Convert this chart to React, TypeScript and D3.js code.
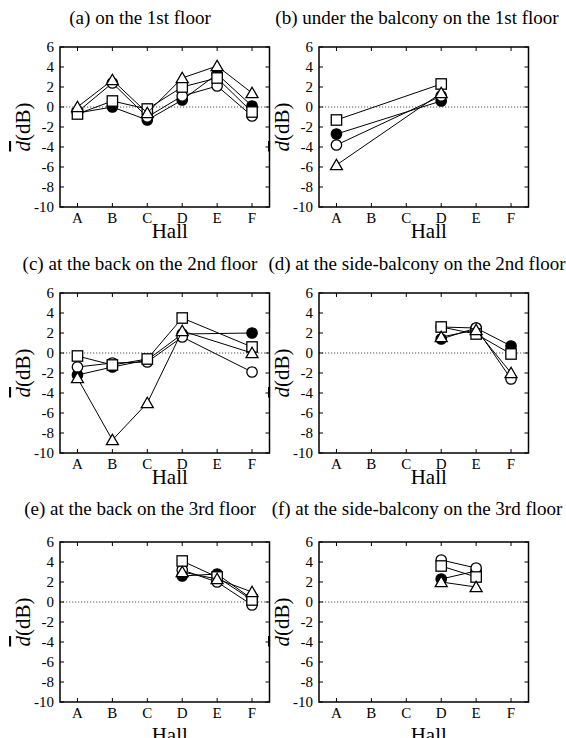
import React from 'react';
import * as d3 from 'd3';

const halls = ['A', 'B', 'C', 'D', 'E', 'F'];
const yTicks = [6, 4, 2, 0, -2, -4, -6, -8, -10];
const titles = [
  '(a) on the 1st floor',
  '(b) under the balcony on the 1st floor',
  '(c) at the back on the 2nd floor',
  '(d) at the side-balcony on the 2nd floor',
  '(e) at the back on the 3rd floor',
  '(f) at the side-balcony on the 3rd floor',
];

type V = number | null;
// one row per panel (a)..(f), one value per hall A..F
const filledCircle: V[][] = [
  [-0.6, 0.0, -1.3, 0.7, 3.3, 0.1],
  [-2.7, null, null, 0.6, null, null],
  [-2.2, -1.4, -0.7, 1.9, null, 2.0],
  [null, null, null, 1.4, 2.5, 0.7],
  [null, null, null, 2.6, 2.8, 0.3],
  [null, null, null, 2.3, 3.1, null],
];
const openCircle: V[][] = [
  [-0.5, 2.4, -1.0, 1.1, 2.1, -0.9],
  [-3.8, null, null, 1.1, null, null],
  [-1.4, -1.0, -0.9, 1.6, null, -1.9],
  [null, null, null, 2.6, 2.5, -2.6],
  [null, null, null, 3.2, 2.0, -0.3],
  [null, null, null, 4.2, 3.4, null],
];
const openSquare: V[][] = [
  [-0.7, 0.6, -0.2, 2.0, 2.9, -0.5],
  [-1.3, null, null, 2.3, null, null],
  [-0.3, -1.2, -0.6, 3.5, null, 0.6],
  [null, null, null, 2.6, 1.9, -0.1],
  [null, null, null, 4.1, 2.5, 0.2],
  [null, null, null, 3.6, 2.5, null],
];
const openTriangle: V[][] = [
  [0.0, 2.7, -0.6, 2.9, 4.1, 1.4],
  [-5.8, null, null, 1.4, null, null],
  [-2.5, -8.7, -5.0, 2.2, null, 0.0],
  [null, null, null, 1.6, 2.3, -2.0],
  [null, null, null, 3.0, 2.3, 1.0],
  [null, null, null, 2.0, 1.5, null],
];

const W = 566;
const H = 738;
const colLeft = [60, 319];
const rowTop = [47, 293, 542];
const boxW = 209.5;
const boxH = 160;
const titleX = [140, 417];
const titleY = [24, 270, 515];
const hallOffset = [31, 31, 40];
const FONT = '"Liberation Serif", "DejaVu Serif", serif';

const seriesList = [
  { data: filledCircle, shape: 'circle', fill: '#000' },
  { data: openCircle, shape: 'circle', fill: '#fff' },
  { data: openSquare, shape: 'square', fill: '#fff' },
  { data: openTriangle, shape: 'triangle', fill: '#fff' },
];

function Marker({ shape, fill, x, y }: { shape: string; fill: string; x: number; y: number }) {
  const st = { fill, stroke: '#000', strokeWidth: 1.3 };
  if (shape === 'circle') return <circle cx={x} cy={y} r={5.2} {...st} />;
  if (shape === 'square') return <rect x={x - 5.2} y={y - 5.2} width={10.4} height={10.4} {...st} />;
  const p = d3.path();
  p.moveTo(x, y - 5.8);
  p.lineTo(x + 6, y + 4.6);
  p.lineTo(x - 6, y + 4.6);
  p.closePath();
  return <path d={p.toString()} {...st} />;
}

function Panel({ idx }: { idx: number }) {
  const col = idx % 2;
  const row = Math.floor(idx / 2);
  const left = colLeft[col];
  const top = rowTop[row];
  const x = d3.scaleLinear().domain([-0.5, 5.5]).range([left, left + boxW]);
  const y = d3.scaleLinear().domain([-10, 6]).range([top + boxH, top]);
  const tick = 4;
  return (
    <g>
      <text x={titleX[col]} y={titleY[row]} textAnchor="middle" fontSize={19} fontFamily={FONT}>
        {titles[idx]}
      </text>
      <line x1={left} x2={left + boxW} y1={y(0)} y2={y(0)} stroke="#555" strokeWidth={1} strokeDasharray="1.2,1.8" />
      {yTicks.map((t) => (
        <g key={'y' + t}>
          <line x1={left} x2={left + tick} y1={y(t)} y2={y(t)} stroke="#000" strokeWidth={1} />
          <line x1={left + boxW} x2={left + boxW - tick} y1={y(t)} y2={y(t)} stroke="#000" strokeWidth={1} />
          <text x={left - 6} y={y(t)} dy="0.35em" textAnchor="end" fontSize={15} fontFamily={FONT}>
            {t}
          </text>
        </g>
      ))}
      {halls.map((h, i) => (
        <g key={'x' + h}>
          <line x1={x(i)} x2={x(i)} y1={top + boxH} y2={top + boxH - tick} stroke="#000" strokeWidth={1} />
          <line x1={x(i)} x2={x(i)} y1={top} y2={top + tick} stroke="#000" strokeWidth={1} />
          <text x={x(i)} y={top + boxH + 16} textAnchor="middle" fontSize={15} fontFamily={FONT}>
            {h}
          </text>
        </g>
      ))}
      <text x={left + boxW / 2 + 5} y={top + boxH + hallOffset[row]} textAnchor="middle" fontSize={21} fontFamily={FONT}>
        Hall
      </text>
      <text
        transform={`translate(${left - 30},${top + boxH / 2}) rotate(-90)`}
        textAnchor="middle"
        fontSize={21}
        fontFamily={FONT}
      >
        <tspan fontStyle="italic" style={{ textDecoration: 'overline' }}>d</tspan>
        <tspan>(dB)</tspan>
      </text>
      {seriesList.map((s, si) => {
        const pts = s.data[idx]
          .map((v, i) => (v === null ? null : ([x(i), y(v)] as [number, number])))
          .filter((p): p is [number, number] => p !== null);
        const line = d3.line();
        return (
          <g key={'s' + si}>
            <path d={line(pts) || ''} fill="none" stroke="#000" strokeWidth={1} />
            {pts.map((p, pi) => (
              <Marker key={pi} shape={s.shape} fill={s.fill} x={p[0]} y={p[1]} />
            ))}
          </g>
        );
      })}
      <rect x={left} y={top} width={boxW} height={boxH} fill="none" stroke="#000" strokeWidth={1.5} />
    </g>
  );
}

export default function App() {
  return (
    <svg
      width={W}
      height={H}
      viewBox={`0 0 ${W} ${H}`}
      style={{ position: 'absolute', left: 0, top: 0, background: '#fff' }}
    >
      <rect width={W} height={H} fill="#fff" />
      {d3.range(6).map((i) => (
        <Panel key={i} idx={i} />
      ))}
    </svg>
  );
}
